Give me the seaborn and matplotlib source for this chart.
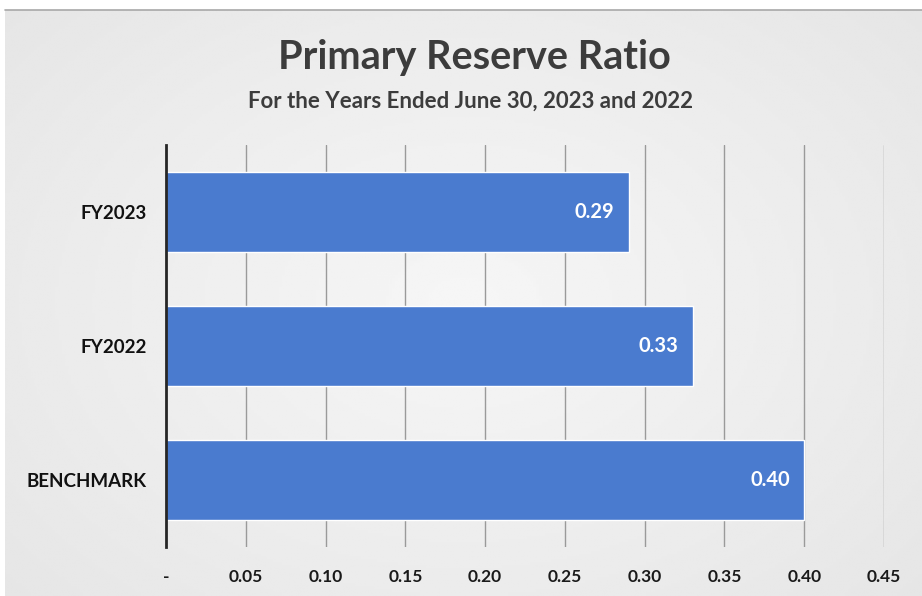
import numpy as np
import pandas as pd
import matplotlib
matplotlib.use("Agg")
import matplotlib.pyplot as plt
import seaborn as sns

categories = ["FY2023", "FY2022", "BENCHMARK"]
values = [0.29, 0.33, 0.40]
tick_values = [0, 0.05, 0.10, 0.15, 0.20, 0.25, 0.30, 0.35, 0.40, 0.45]
tick_labels = ["-", "0.05", "0.10", "0.15", "0.20", "0.25", "0.30", "0.35", "0.40", "0.45"]

sns.set_theme(style="white")
plt.rcParams["font.family"] = ["Lato", "DejaVu Sans"]

df = pd.DataFrame({"category": categories, "value": values})

fig = plt.figure(figsize=(9.22, 5.96), dpi=100)
fig.patch.set_facecolor("white")

# background panel with soft gradient
bg = fig.add_axes([5 / 922, 0, 1 - 5 / 922, 1 - 10 / 596])
yy, xx = np.mgrid[-1:1:200j, -1:1:300j]
r = np.sqrt((xx * 0.9) ** 2 + (yy * 0.8) ** 2)
grad = 0.965 - 0.075 * np.clip(r, 0, 1.4) / 1.4
bg.imshow(grad, cmap="gray", vmin=0, vmax=1, aspect="auto", extent=[0, 1, 0, 1])
bg.set_xlim(0, 1)
bg.set_ylim(0, 1)
bg.axis("off")
bg.plot([0, 1], [1, 1], color="#a8a8a8", lw=1.2, transform=bg.transAxes, clip_on=False)

ax = fig.add_axes([166 / 922, 1 - 547 / 596, (884 - 166) / 922, (547 - 145) / 596])
ax.set_facecolor("none")
sns.barplot(data=df, x="value", y="category", order=categories, color="#4a7bcf",
            width=0.59, saturation=1, ax=ax, zorder=3)
ax.set_xlim(0, 0.45)
ax.set_ylim(2.5, -0.5)
ax.set_xticks(tick_values)
ax.set_xticklabels(tick_labels, fontsize=12.5, fontweight="bold", color="#1a1a1a")
ax.tick_params(axis="x", length=0, pad=16)
ax.tick_params(axis="y", length=0, pad=14)
for lab in ax.get_yticklabels():
    lab.set_fontsize(13.5)
    lab.set_fontweight("bold")
    lab.set_color("#111111")
ax.set_xlabel("")
ax.set_ylabel("")
for x in tick_values[1:]:
    ax.axvline(x, color="#9a9a9a", lw=1.0, zorder=1)
for s in ["top", "right", "bottom"]:
    ax.spines[s].set_visible(False)
ax.spines["left"].set_color("#262626")
ax.spines["left"].set_linewidth(2)
ax.spines["left"].set_zorder(4)

for i, v in enumerate(values):
    ax.text(v - 0.009, i, f"{v:.2f}", ha="right", va="center", color="white",
            fontsize=14.5, fontweight="bold", zorder=5)

fig.text(474 / 922, 1 - 58 / 596, "Primary Reserve Ratio", ha="center", va="center",
         fontsize=28.5, fontweight="bold", color="#3c3c3c")
fig.text(470 / 922, 1 - 101 / 596, "For the Years Ended June 30, 2023 and 2022", ha="center",
         va="center", fontsize=16, fontweight="bold", color="#3c3c3c")

fig.savefig("out.png", dpi=100)
